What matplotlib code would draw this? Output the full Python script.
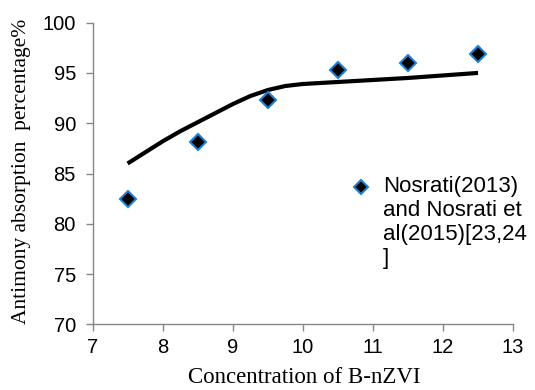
import matplotlib
matplotlib.use("Agg")
import matplotlib.pyplot as plt

# measured points
conc = [7.5, 8.5, 9.5, 10.5, 11.5, 12.5]
absorption = [82.5, 88.1, 92.3, 95.3, 96.0, 96.9]

# trend curve
curve_x = [7.5, 7.75, 8.0, 8.25, 8.5, 8.75, 9.0, 9.25, 9.5, 9.75, 10.0, 10.5, 11.0, 11.5, 12.0, 12.5]
curve_y = [86.0, 87.1, 88.2, 89.2, 90.1, 91.0, 91.9, 92.7, 93.3, 93.7, 93.9, 94.1, 94.3, 94.5, 94.75, 95.0]

x_ticks = [7, 8, 9, 10, 11, 12, 13]
y_ticks = [70, 75, 80, 85, 90, 95, 100]
legend_label = "Nosrati(2013)\nand Nosrati et\nal(2015)[23,24\n]"

plt.rcParams["font.family"] = ["Liberation Sans", "DejaVu Sans"]
plt.rcParams["xtick.labelsize"] = 14.5
plt.rcParams["ytick.labelsize"] = 14.5
serif = "Liberation Serif"
grey = "#868686"
edge_blue = "#1f7fd0"

fig = plt.figure(figsize=(5.35, 3.9), dpi=100)
ax = fig.add_axes([0.173, 0.168, 0.786, 0.774])

ax.plot(curve_x, curve_y, color="black", lw=3, solid_capstyle="butt",
        solid_joinstyle="round", zorder=2)
ax.plot(conc, absorption, ls="none", marker="D", ms=8.5, mfc="black",
        mec=edge_blue, mew=1.5, zorder=3)

ax.set_xlim(7, 13)
ax.set_ylim(70, 100)
ax.set_xticks(x_ticks)
ax.set_yticks(y_ticks)
ax.tick_params(direction="out", length=5, width=1, color=grey,
               labelcolor="black")
ax.tick_params(axis="x", pad=5)
ax.tick_params(axis="y", pad=7)

for side in ("top", "right"):
    ax.spines[side].set_visible(False)
for side in ("left", "bottom"):
    ax.spines[side].set_color(grey)
    ax.spines[side].set_linewidth(1)

# legend drawn by hand so the marker sits on the first line
ax.plot([0.638], [0.455], transform=ax.transAxes, ls="none", marker="D",
        ms=7.5, mfc="black", mec=edge_blue, mew=1.5, clip_on=False)
ax.text(0.69, 0.493, legend_label, transform=ax.transAxes, va="top", ha="left",
        fontsize=16, linespacing=1.2)

fig.text(0.568, 0.032, "Concentration of B-nZVI", ha="center", va="center",
         fontfamily=serif, fontsize=16.5)
fig.text(0.04, 0.56, "Antimony absorption  percentage%", ha="center",
         va="center", rotation=90, fontfamily=serif, fontsize=15.5)

fig.savefig("out.png", dpi=100)
